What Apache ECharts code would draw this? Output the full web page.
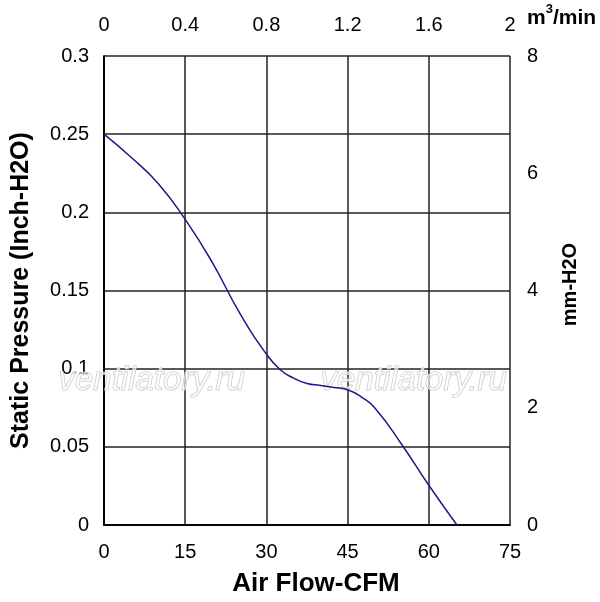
<!DOCTYPE html>
<html>
<head>
<meta charset="utf-8">
<script src="https://cdn.jsdelivr.net/npm/echarts@6/dist/echarts.min.js"></script>
<style>
  html, body { margin: 0; padding: 0; background: #fff; }
  #chart { width: 600px; height: 602px; }
</style>
</head>
<body>
<div id="chart"></div>
<script>
// P-Q curve, flow in CFM, pressure in inch H2O
var flowCfm = [0, 5, 10, 15, 20, 25, 30, 32.5, 35, 37.5, 40, 42.5, 45, 47.5, 50, 55, 60, 65.2];
var pressureInch = [0.25, 0.2352, 0.2185, 0.1955, 0.168, 0.136, 0.1093, 0.0995, 0.094, 0.0905, 0.0893, 0.088, 0.0865, 0.082, 0.075, 0.0515, 0.0254, 0];

var cfmTicks = [0, 75, 15];        // min, max, step
var m3Ticks = [0, 2, 0.4];
var inchTicks = [0, 0.3, 0.05];
var mmTicks = [0, 8, 2];

var chart = echarts.init(document.getElementById('chart'));

var points = flowCfm.map(function (x, i) { return [x, pressureInch[i]]; });
var FONT = 'Liberation Sans, Arial';
var labelFont = { color: '#000', fontSize: 20, fontFamily: FONT };
var gridLine = { show: true, lineStyle: { color: '#222', width: 1.5 } };

var option = {
    animation: false,
    grid: { left: 104, right: 90, top: 56, bottom: 74 },
    xAxis: [
        {
            type: 'value', position: 'bottom',
            min: cfmTicks[0], max: cfmTicks[1], interval: cfmTicks[2],
            name: 'Air Flow-CFM', nameLocation: 'middle', nameGap: 46,
            nameTextStyle: { color: '#000', fontSize: 26, fontWeight: 'bold', fontFamily: FONT, padding: [0, 0, 0, 18] },
            axisLine: { lineStyle: { color: '#000', width: 1.5 } },
            axisTick: { show: false },
            axisLabel: Object.assign({ margin: 17 }, labelFont),
            splitLine: gridLine
        },
        {
            type: 'value', position: 'top',
            min: m3Ticks[0], max: m3Ticks[1], interval: m3Ticks[2],
            axisLine: { lineStyle: { color: '#000', width: 1.5 } },
            axisTick: { show: false },
            axisLabel: Object.assign({ margin: 21 }, labelFont),
            splitLine: { show: false }
        }
    ],
    yAxis: [
        {
            type: 'value', position: 'left',
            min: inchTicks[0], max: inchTicks[1], interval: inchTicks[2],
            name: 'Static Pressure (Inch-H2O)', nameLocation: 'middle', nameGap: 70, nameRotate: 90,
            nameTextStyle: { color: '#000', fontSize: 25, fontWeight: 'bold', fontFamily: FONT },
            axisLine: { show: true, lineStyle: { color: '#000', width: 1.5 } },
            axisTick: { show: false },
            axisLabel: Object.assign({ margin: 15 }, labelFont),
            splitLine: gridLine
        },
        {
            type: 'value', position: 'right',
            min: mmTicks[0], max: mmTicks[1], interval: mmTicks[2],
            name: 'mm-H2O', nameLocation: 'middle', nameGap: 50, nameRotate: 90,
            nameTextStyle: { color: '#000', fontSize: 20, fontWeight: 'bold', fontFamily: FONT, padding: [0, 0, 0, 12] },
            axisLine: { show: true, lineStyle: { color: '#000', width: 1.5 } },
            axisTick: { show: false },
            axisLabel: Object.assign({ margin: 17 }, labelFont),
            splitLine: { show: false }
        }
    ],
    graphic: [
        {
            type: 'text', left: 527, top: 3, z: 10,
            style: {
                text: '{b|m}{s|3}{b|/min}',
                rich: {
                    b: { fontSize: 21, fontWeight: 'bold', fontFamily: FONT, fill: '#000', verticalAlign: 'bottom', lineHeight: 26 },
                    s: { fontSize: 13, fontWeight: 'bold', fontFamily: FONT, fill: '#000', verticalAlign: 'top', lineHeight: 26 }
                }
            }
        },
        {
            type: 'text', left: 58, top: 364, z: 1,
            style: { text: 'ventilatory.ru', font: 'italic 33px Liberation Sans, Arial', fill: 'rgba(255,255,255,0.6)', stroke: '#c4c4c4', lineWidth: 1 }
        },
        {
            type: 'text', left: 320, top: 364, z: 1,
            style: { text: 'ventilatory.ru', font: 'italic 33px Liberation Sans, Arial', fill: 'rgba(255,255,255,0.6)', stroke: '#c4c4c4', lineWidth: 1 }
        }
    ],
    series: [
        {
            type: 'line',
            xAxisIndex: 0, yAxisIndex: 0,
            data: points,
            smooth: 0.5,
            showSymbol: false,
            lineStyle: { color: '#1a1a8a', width: 1.5 },
            z: 5
        }
    ]
};

chart.setOption(option);
</script>
</body>
</html>
